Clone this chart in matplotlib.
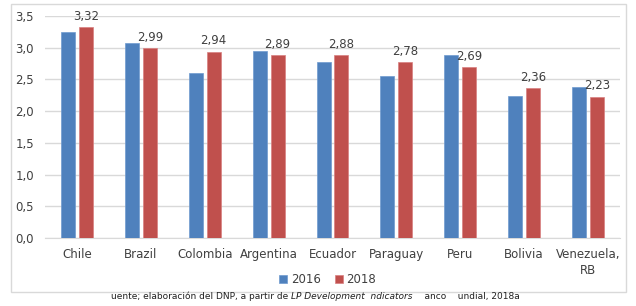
import numpy as np
import matplotlib.pyplot as plt
from matplotlib.patches import Rectangle

countries = ["Chile", "Brazil", "Colombia", "Argentina", "Ecuador",
             "Paraguay", "Peru", "Bolivia", "Venezuela,\nRB"]
vals_2016 = [3.24, 3.08, 2.60, 2.95, 2.77, 2.55, 2.88, 2.24, 2.38]
vals_2018 = [3.32, 2.99, 2.94, 2.89, 2.88, 2.78, 2.69, 2.36, 2.23]
yticks = [0.0, 0.5, 1.0, 1.5, 2.0, 2.5, 3.0, 3.5]

blue = "#4F81BD"
red = "#C0504D"
txt = "#404040"

fig = plt.figure(figsize=(6.36, 3.06), dpi=100)
# outer chart frame
fig.patches.append(Rectangle((11/636, 1 - 292/306), 615/636, 288/306,
                             transform=fig.transFigure, fill=False,
                             edgecolor="#D9D9D9", linewidth=1.0))
ax = fig.add_axes([45/636, 1 - 238/306, 575/636, 222/306])

x = np.arange(len(countries))
w = 0.22
gap = 0.03
b1 = ax.bar(x - w/2 - gap, vals_2016, width=w, color=blue, label="2016",
            edgecolor="#6F9AD0", linewidth=0.5, zorder=3)
b2 = ax.bar(x + w/2 + gap, vals_2018, width=w, color=red, label="2018",
            edgecolor="#D98080", linewidth=0.5, zorder=3)

for xi, v in zip(x, vals_2018):
    ax.annotate(f"{v:.2f}".replace(".", ","), (xi + w/2 + gap, v),
                xytext=(0, 3), textcoords="offset points",
                ha="center", va="bottom", fontsize=8.5, color=txt)

ax.set_xlim(-0.5, len(countries) - 0.5)
ax.set_ylim(0, 3.5)
ax.set_yticks(yticks)
ax.set_yticklabels([f"{t:.1f}".replace(".", ",") for t in yticks])
ax.set_xticks(x)
ax.set_xticklabels(countries, linespacing=1.3)
ax.tick_params(axis="both", length=0, labelsize=8.5, labelcolor=txt)
ax.tick_params(axis="x", pad=7)
ax.tick_params(axis="y", pad=8)
ax.grid(axis="y", color="#D9D9D9", linewidth=1.0, zorder=0)
for s in ["top", "right", "left"]:
    ax.spines[s].set_visible(False)
ax.spines["bottom"].set_color("#D9D9D9")

fig.legend(handles=[b1, b2], loc="center", bbox_to_anchor=(0.515, 0.085),
           ncol=2, frameon=False, fontsize=8.5, handlelength=0.7,
           handleheight=0.7, handletextpad=0.3, columnspacing=1.2,
           labelcolor=txt)

# source note, italic middle part
t1 = fig.text(0.175, 0.015, "uente; elaboración del DNP, a partir de ",
              fontsize=6.5, color="#202020", va="bottom")
a2 = fig.add_artist(plt.Annotation("LP Development  ndicators", xy=(1, 0),
                                   xycoords=t1, va="bottom", fontsize=6.5,
                                   style="italic", color="#202020"))
fig.add_artist(plt.Annotation("    anco    undial, 2018a", xy=(1, 0),
                              xycoords=a2, va="bottom", fontsize=6.5,
                              color="#202020"))

fig.savefig("out.png", dpi=100)
